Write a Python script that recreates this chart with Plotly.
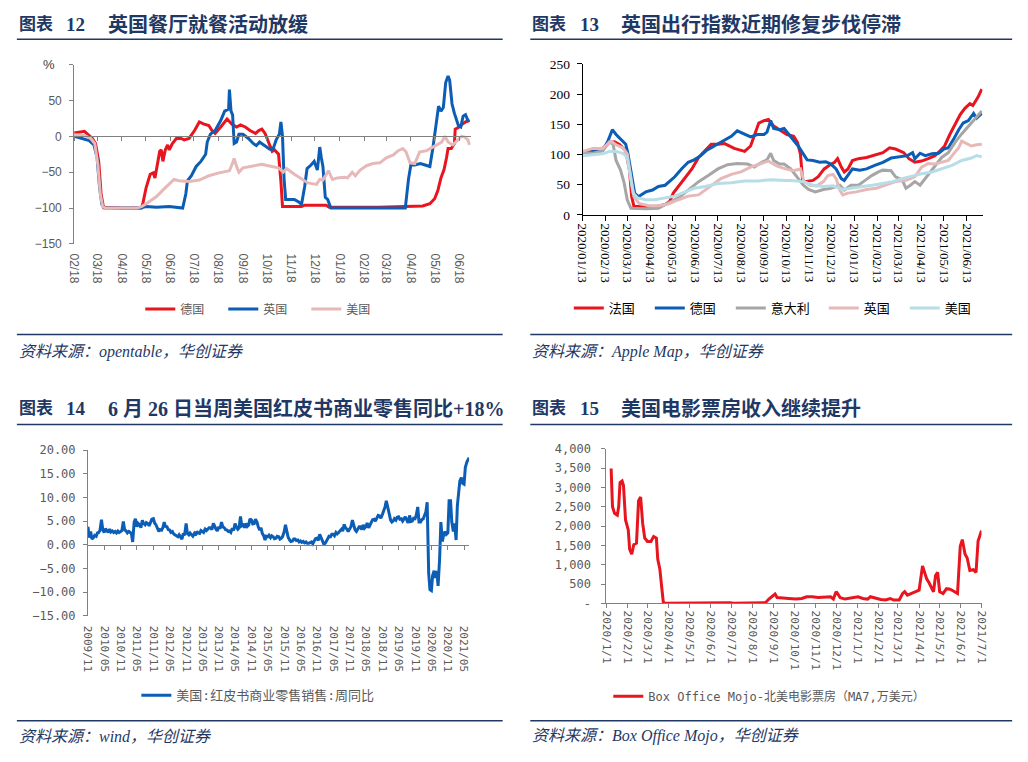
import pandas as pd
import plotly.graph_objects as go

W, H = 1028, 762
NAVY = "#1F3864"
RED = "#E8141E"
BLUE = "#0B5DB5"
PINK = "#E6B9B8"
GRAY = "#A6A6A6"
LBLUE = "#B7DEE8"
AXG = "#808080"
TXG = "#595959"

# ---------------- Panel 12: OpenTable dining (% YoY) ----------------
p1_de_dates = ["2020-02-18", "2020-02-20", "2020-03-02", "2020-03-08", "2020-03-12", "2020-03-16", "2020-03-20",
               "2020-03-23", "2020-03-26", "2020-04-20", "2020-05-13", "2020-05-15", "2020-05-19", "2020-05-24",
               "2020-05-28", "2020-05-30", "2020-06-02", "2020-06-05", "2020-06-07", "2020-06-09", "2020-06-12",
               "2020-06-15", "2020-06-17", "2020-06-21", "2020-06-26", "2020-07-02", "2020-07-06", "2020-07-12",
               "2020-07-19", "2020-07-25", "2020-07-31", "2020-08-06", "2020-08-10", "2020-08-14", "2020-08-21",
               "2020-08-29", "2020-09-04", "2020-09-10", "2020-09-15", "2020-09-21", "2020-09-27", "2020-10-04",
               "2020-10-08", "2020-10-12", "2020-10-16", "2020-10-20", "2020-10-25", "2020-10-28", "2020-11-02",
               "2020-11-05", "2020-11-07", "2020-11-14", "2020-12-01", "2020-12-05", "2021-01-01", "2021-01-05",
               "2021-03-08", "2021-05-03", "2021-05-12", "2021-05-18", "2021-05-22", "2021-05-26", "2021-05-30",
               "2021-06-02", "2021-06-04", "2021-06-08", "2021-06-12", "2021-06-13", "2021-06-18", "2021-06-22",
               "2021-06-26", "2021-07-01"]
p1_de_vals = [5, 5, 7, 1, -3, -10, -35, -80, -99, -100, -100, -92, -71, -53, -51, -58, -40, -21, -19, -35, -19,
              -12, -19, -10, -3, -3, -5, -3, 8, 20, 17, 15, 8, 4, 13, 24, 17, 13, 16, 13, 8, 4, 8, 10, 4, -8, -21,
              -19, -25, -63, -98, -98, -98, -96, -96, -99, -99, -97, -94, -87, -76, -58, -46, -30, -17, -17, -10,
              10, 13, 17, 20, 22]

p1_uk_dates = ["2020-02-18", "2020-02-27", "2020-03-08", "2020-03-14", "2020-03-18", "2020-03-21", "2020-03-24",
               "2020-03-27", "2020-05-11", "2020-05-19", "2020-06-01", "2020-06-17", "2020-07-04", "2020-07-08",
               "2020-07-10", "2020-07-15", "2020-07-21", "2020-07-27", "2020-08-02", "2020-08-04", "2020-08-08",
               "2020-08-14", "2020-08-21", "2020-08-26", "2020-08-31", "2020-09-01", "2020-09-03", "2020-09-05",
               "2020-09-07", "2020-09-10", "2020-09-13", "2020-09-18", "2020-09-25", "2020-10-01", "2020-10-05",
               "2020-10-09", "2020-10-16", "2020-10-22", "2020-10-26", "2020-10-30", "2020-11-03", "2020-11-05",
               "2020-11-07", "2020-11-09", "2020-11-11", "2020-11-22", "2020-11-28", "2020-12-01", "2020-12-05",
               "2020-12-08", "2020-12-13", "2020-12-17", "2020-12-21", "2020-12-24", "2020-12-26", "2020-12-28",
               "2020-12-31", "2021-01-03", "2021-01-07", "2021-04-11", "2021-04-15", "2021-04-18", "2021-04-23",
               "2021-04-30", "2021-05-06", "2021-05-12", "2021-05-16", "2021-05-20", "2021-05-23", "2021-05-26",
               "2021-05-29", "2021-06-01", "2021-06-04", "2021-06-06", "2021-06-09", "2021-06-12", "2021-06-17",
               "2021-06-20", "2021-06-23", "2021-06-26", "2021-06-29", "2021-07-01"]
p1_uk_vals = [0, -3, -6, -12, -30, -70, -95, -100, -100, -98, -99, -98, -100, -80, -62, -55, -42, -35, -25, -8, 3,
              8, 22, 35, 38, 65, 35, 30, -10, -8, 3, 3, -3, -10, -13, -8, -13, -18, -18, -5, 3, 20, 0, -60, -88,
              -88, -92, -95, -70, -45, -40, -35, -47, -15, -30, -42, -85, -88, -100, -100, -60, -40, -40, -38, -40,
              -42, -15, 20, 42, 35, 40, 75, 84, 78, 45, 32, 15, 13, 28, 30, 22, 23]

p1_us_dates = ["2020-02-18", "2020-03-02", "2020-03-10", "2020-03-15", "2020-03-19", "2020-03-22", "2020-03-25",
               "2020-03-28", "2020-05-07", "2020-05-13", "2020-05-19", "2020-05-26", "2020-06-01", "2020-06-09",
               "2020-06-17", "2020-06-23", "2020-06-29", "2020-07-12", "2020-07-25", "2020-08-06", "2020-08-19",
               "2020-09-01", "2020-09-04", "2020-09-07", "2020-09-10", "2020-09-13", "2020-09-18", "2020-09-28",
               "2020-10-12", "2020-10-20", "2020-10-25", "2020-11-02", "2020-11-08", "2020-11-12", "2020-11-22",
               "2020-12-01", "2020-12-09", "2020-12-20", "2020-12-24", "2020-12-28", "2021-01-04", "2021-01-09",
               "2021-01-15", "2021-01-24", "2021-01-28", "2021-02-03", "2021-02-07", "2021-02-13", "2021-02-21",
               "2021-03-01", "2021-03-10", "2021-03-18", "2021-03-27", "2021-04-02", "2021-04-08", "2021-04-12",
               "2021-04-17", "2021-04-23", "2021-04-29", "2021-05-08", "2021-05-16", "2021-05-23", "2021-05-27",
               "2021-05-31", "2021-06-04", "2021-06-10", "2021-06-17", "2021-06-21", "2021-06-25", "2021-06-29",
               "2021-07-01"]
p1_us_vals = [2, 1, -3, -10, -40, -80, -98, -100, -100, -98, -94, -88, -84, -75, -66, -60, -62, -63, -61, -55,
              -51, -48, -40, -31, -42, -50, -44, -42, -39, -41, -42, -44, -50, -45, -53, -60, -65, -67, -60, -61,
              -48, -60, -58, -57, -58, -50, -55, -47, -41, -38, -37, -30, -26, -20, -17, -22, -37, -38, -22, -20,
              -15, -10, -8, 0, -8, -12, -5, 0, -1, -5, -12]

p1_tick_dates = ["2020-02-18", "2020-03-18", "2020-04-18", "2020-05-18", "2020-06-18", "2020-07-18", "2020-08-18",
                 "2020-09-18", "2020-10-18", "2020-11-18", "2020-12-18", "2021-01-18", "2021-02-18", "2021-03-18",
                 "2021-04-18", "2021-05-18", "2021-06-18"]
p1_y_ticks = [-150, -100, -50, 0, 50, 100]
p1_y_labels = ["\u2212150", "\u2212100", "\u221250", "0", "50", ""]

# ---------------- Panel 13: Apple mobility ----------------
p2_fr_dates = ["2020-01-13", "2020-01-27", "2020-02-09", "2020-02-18", "2020-02-25", "2020-03-03", "2020-03-11",
               "2020-03-16", "2020-03-19", "2020-03-22", "2020-04-06", "2020-04-19", "2020-05-03", "2020-05-09",
               "2020-05-14", "2020-05-21", "2020-05-30", "2020-06-08", "2020-06-17", "2020-06-26", "2020-07-04",
               "2020-07-13", "2020-07-22", "2020-08-04", "2020-08-18", "2020-08-26", "2020-08-31", "2020-09-06",
               "2020-09-13", "2020-09-19", "2020-09-26", "2020-10-04", "2020-10-14", "2020-10-23", "2020-10-28",
               "2020-11-01", "2020-11-04", "2020-11-07", "2020-11-18", "2020-11-25", "2020-12-03", "2020-12-10",
               "2020-12-17", "2020-12-21", "2020-12-26", "2020-12-30", "2021-01-04", "2021-01-10", "2021-01-18",
               "2021-01-29", "2021-02-11", "2021-02-20", "2021-03-01", "2021-03-09", "2021-03-20", "2021-03-27",
               "2021-04-04", "2021-04-13", "2021-04-22", "2021-05-01", "2021-05-08", "2021-05-14", "2021-05-21",
               "2021-05-28", "2021-06-04", "2021-06-10", "2021-06-17", "2021-06-21", "2021-06-28", "2021-07-03"]
p2_fr_vals = [103, 109, 110, 120, 121, 116, 106, 74, 30, 14, 13, 13, 17, 22, 36, 47, 63, 76, 95, 106, 117, 117,
              118, 110, 105, 114, 130, 152, 156, 158, 147, 141, 133, 130, 120, 101, 57, 55, 57, 63, 76, 82, 87, 93,
              79, 71, 76, 90, 93, 95, 100, 103, 111, 109, 103, 93, 87, 89, 93, 98, 106, 114, 133, 149, 166, 176,
              184, 181, 195, 208]

p2_de_dates = ["2020-01-13", "2020-01-27", "2020-02-09", "2020-02-16", "2020-02-22", "2020-02-27", "2020-03-04",
               "2020-03-11", "2020-03-14", "2020-03-19", "2020-03-23", "2020-03-28", "2020-04-07", "2020-04-16",
               "2020-04-24", "2020-05-03", "2020-05-09", "2020-05-16", "2020-05-25", "2020-06-03", "2020-06-11",
               "2020-06-20", "2020-06-27", "2020-07-04", "2020-07-13", "2020-07-22", "2020-07-31", "2020-08-08",
               "2020-08-18", "2020-08-26", "2020-09-04", "2020-09-13", "2020-09-17", "2020-09-22", "2020-09-26",
               "2020-10-04", "2020-10-10", "2020-10-16", "2020-10-23", "2020-10-29", "2020-11-05", "2020-11-10",
               "2020-11-18", "2020-11-27", "2020-12-05", "2020-12-12", "2020-12-19", "2020-12-26", "2020-12-30",
               "2021-01-04", "2021-01-10", "2021-01-20", "2021-01-29", "2021-02-09", "2021-02-20", "2021-03-03",
               "2021-03-14", "2021-03-25", "2021-04-01", "2021-04-04", "2021-04-11", "2021-04-18", "2021-04-27",
               "2021-05-06", "2021-05-13", "2021-05-19", "2021-05-26", "2021-06-02", "2021-06-08", "2021-06-15",
               "2021-06-22", "2021-06-26", "2021-07-03"]
p2_de_vals = [103, 105, 107, 122, 141, 133, 125, 117, 101, 63, 36, 30, 38, 41, 47, 49, 55, 63, 76, 87, 91, 98,
              106, 111, 118, 125, 130, 139, 133, 129, 133, 133, 137, 156, 143, 141, 143, 133, 123, 114, 101, 91, 90,
              87, 88, 84, 76, 60, 57, 65, 76, 74, 76, 82, 87, 94, 96, 98, 103, 93, 102, 98, 101, 102, 109, 111, 125,
              141, 152, 156, 168, 160, 168]

p2_it_dates = ["2020-01-13", "2020-01-27", "2020-02-09", "2020-02-18", "2020-02-23", "2020-02-27", "2020-03-04",
               "2020-03-09", "2020-03-13", "2020-03-18", "2020-04-07", "2020-04-24", "2020-05-03", "2020-05-12",
               "2020-05-21", "2020-06-03", "2020-06-17", "2020-06-30", "2020-07-13", "2020-07-26", "2020-08-08",
               "2020-08-22", "2020-08-31", "2020-09-10", "2020-09-17", "2020-09-22", "2020-09-26", "2020-10-04",
               "2020-10-10", "2020-10-19", "2020-10-27", "2020-11-05", "2020-11-12", "2020-11-21", "2020-12-02",
               "2020-12-12", "2020-12-24", "2020-12-30", "2021-01-08", "2021-01-18", "2021-01-27", "2021-02-05",
               "2021-02-14", "2021-02-20", "2021-03-03", "2021-03-09", "2021-03-18", "2021-03-23", "2021-03-29",
               "2021-04-04", "2021-04-11", "2021-04-18", "2021-04-25", "2021-05-01", "2021-05-10", "2021-05-19",
               "2021-05-28", "2021-06-06", "2021-06-15", "2021-06-24", "2021-07-03"]
p2_it_vals = [103, 102, 106, 121, 117, 90, 74, 52, 25, 11, 10, 11, 17, 22, 28, 41, 55, 65, 76, 83, 85, 84, 79, 87,
              91, 102, 90, 84, 84, 76, 63, 49, 42, 38, 42, 44, 49, 41, 49, 49, 57, 65, 71, 74, 73, 63, 58, 44, 49,
              55, 49, 60, 71, 82, 95, 103, 120, 134, 147, 160, 172]

p2_uk_dates = ["2020-01-13", "2020-01-27", "2020-02-09", "2020-02-20", "2020-02-27", "2020-03-07", "2020-03-13",
               "2020-03-18", "2020-03-22", "2020-03-29", "2020-04-11", "2020-04-24", "2020-05-07", "2020-05-21",
               "2020-06-03", "2020-06-17", "2020-06-26", "2020-07-04", "2020-07-17", "2020-07-31", "2020-08-13",
               "2020-08-26", "2020-09-08", "2020-09-19", "2020-09-30", "2020-10-12", "2020-10-23", "2020-11-01",
               "2020-11-06", "2020-11-14", "2020-11-23", "2020-12-02", "2020-12-08", "2020-12-15", "2020-12-19",
               "2020-12-24", "2020-12-28", "2021-01-04", "2021-01-15", "2021-01-29", "2021-02-11", "2021-02-24",
               "2021-03-09", "2021-03-23", "2021-04-04", "2021-04-13", "2021-04-22", "2021-05-01", "2021-05-10",
               "2021-05-19", "2021-05-26", "2021-06-02", "2021-06-06", "2021-06-12", "2021-06-19", "2021-06-26",
               "2021-07-03"]
p2_uk_vals = [105, 110, 110, 122, 116, 111, 101, 63, 30, 19, 15, 15, 18, 25, 31, 33, 41, 47, 60, 67, 71, 79, 84,
              89, 81, 76, 73, 76, 55, 49, 48, 55, 65, 67, 60, 41, 33, 36, 38, 42, 44, 49, 55, 57, 63, 79, 85, 84,
              87, 90, 101, 111, 122, 118, 114, 116, 117]

p2_us_dates = ["2020-01-13", "2020-01-27", "2020-02-09", "2020-02-18", "2020-02-27", "2020-03-07", "2020-03-13",
               "2020-03-18", "2020-03-21", "2020-03-27", "2020-04-07", "2020-04-19", "2020-05-03", "2020-05-16",
               "2020-05-30", "2020-06-11", "2020-06-26", "2020-07-13", "2020-07-31", "2020-08-18", "2020-09-04",
               "2020-09-22", "2020-10-13", "2020-10-19", "2020-11-05", "2020-11-18", "2020-12-02", "2020-12-15",
               "2020-12-28", "2021-01-11", "2021-01-24", "2021-02-06", "2021-02-20", "2021-03-05", "2021-03-18",
               "2021-04-01", "2021-04-13", "2021-04-27", "2021-05-10", "2021-05-24", "2021-06-06", "2021-06-19",
               "2021-06-26", "2021-07-03"]
p2_us_vals = [98, 100, 101, 105, 105, 102, 95, 57, 36, 28, 25, 25, 28, 31, 38, 44, 47, 52, 53, 56, 56, 58, 57, 57,
              55, 49, 47, 48, 42, 44, 47, 49, 52, 55, 60, 65, 68, 71, 76, 82, 90, 94, 98, 96]

p2_tick_dates = ["2020-01-13", "2020-02-13", "2020-03-13", "2020-04-13", "2020-05-13", "2020-06-13", "2020-07-13",
                 "2020-08-13", "2020-09-13", "2020-10-13", "2020-11-13", "2020-12-13", "2021-01-13", "2021-02-13",
                 "2021-03-13", "2021-04-13", "2021-05-13", "2021-06-13"]
p2_y_ticks = [0, 50, 100, 150, 200, 250]

# ---------------- Panel 14: Redbook weekly YoY (semi-monthly readings) ----------------
p3_vals = [
    3.8, 1.5, 2.8, 1.2,  # 2009 Nov-Dec
    1.5, 2.0, 1.8, 2.5, 2.6, 3.0, 5.3, 3.2, 2.6, 3.4, 3.0, 2.6, 3.3, 2.7, 2.9, 2.6, 2.8, 2.5, 2.9, 2.6, 2.8, 3.0, 4.9, 3.2,
    2.9, 2.5, 2.8, 2.6, 2.4, 0.6, 4.8, 5.5, 3.8, 4.5, 4.2, 3.6, 5.2, 4.5, 4.2, 4.7, 4.5, 4.0, 4.8, 5.4, 5.5, 4.6, 4.2, 3.4,
    2.8, 3.2, 3.1, 3.6, 4.8, 3.9, 3.8, 3.2, 3.1, 2.6, 2.8, 2.3, 2.1, 1.8, 1.7, 2.1, 1.7, 1.2, 2.4, 2.0, 4.5, 2.4, 2.1, 2.5,
    2.1, 1.8, 2.4, 2.0, 2.8, 2.5, 2.4, 3.0, 2.8, 2.6, 3.3, 3.0, 3.3, 3.6, 3.6, 3.2, 4.5, 3.8, 3.3, 2.9, 3.8, 3.4, 4.8, 3.8,
    3.6, 3.2, 3.1, 2.8, 2.9, 2.6, 3.5, 3.0, 4.5, 3.8, 3.3, 3.6, 6.0, 4.0, 4.2, 3.6, 4.5, 3.9, 4.2, 5.5, 5.2, 4.4, 4.5, 5.4,
    4.8, 3.8, 3.1, 3.6, 2.4, 2.0, 1.0, 1.8, 1.7, 2.0, 1.5, 1.9, 1.7, 1.3, 1.4, 1.8, 1.7, 1.2, 1.4, 1.8, 2.8, 4.2, 2.4, 1.6,
    1.0, 0.7, 0.8, 1.2, 1.2, 0.9, 1.0, 0.6, 0.8, 0.5, 0.7, 0.4, 0.6, 0.3, 0.3, 0.5, 0.6, 0.2, 0.8, 1.3, 1.4, 0.9, 2.2, 1.5,
    0.7, 0.2, 0.3, 0.9, 1.2, 1.8, 1.7, 2.2, 2.2, 1.9, 2.6, 2.3, 2.6, 3.0, 3.3, 2.9, 4.3, 3.6, 3.3, 2.8, 3.3, 3.8, 5.2, 4.0,
    3.1, 2.8, 3.3, 3.8, 3.8, 3.2, 4.2, 3.5, 3.8, 4.6, 3.6, 4.2, 4.8, 5.3, 5.4, 5.0, 5.7, 6.2, 6.1, 5.6, 6.4, 7.0, 8.0, 9.3,
    7.6, 6.2, 5.2, 4.8, 5.0, 5.5, 5.2, 5.8, 5.9, 5.4, 5.5, 5.0, 5.4, 5.9, 5.2, 4.6, 6.2, 4.9, 5.0, 5.6, 5.5, 6.3, 8.0, 4.8,
    4.8, 5.3, 5.5, 6.2, 7.0, 9.0, -6.0, -9.5, -9.7, -6.5, -5.5, -7.0, -5.5, -8.7, -3.0, 4.8, 0.7, 2.1, 2.8, 2.2, 2.5, 9.3, 9.3, 4.8,
    2.8, 4.5, 1.0, 8.3, 10.4, 13.5, 14.2, 13.0, 12.8, 16.3, 17.5, 18.0,  # 2021 Jan-Jun
]
p3_last_date = "2021-06-26"
p3_last_val = 18.4
p3_dates = [d.strftime("%Y-%m-%d") for d in pd.date_range("2009-11-01", "2021-06-15", freq="SMS")] + [p3_last_date]
p3_vals = p3_vals + [p3_last_val]
p3_tick_labels = ["2009/11", "2010/05", "2010/11", "2011/05", "2011/11", "2012/05", "2012/11", "2013/05",
                  "2013/11", "2014/05", "2014/11", "2015/05", "2015/11", "2016/05", "2016/11", "2017/05",
                  "2017/11", "2018/05", "2018/11", "2019/05", "2019/11", "2020/05", "2020/11", "2021/05"]
p3_y_ticks = [-15, -10, -5, 0, 5, 10, 15, 20]

# ---------------- Panel 15: Box office MA7 (10k USD) ----------------
p4_dates = ["2020-01-08", "2020-01-10", "2020-01-13", "2020-01-17", "2020-01-19", "2020-01-21", "2020-01-24",
            "2020-01-26", "2020-01-29", "2020-01-31", "2020-02-02", "2020-02-04", "2020-02-07", "2020-02-10",
            "2020-02-14", "2020-02-17", "2020-02-20", "2020-02-23", "2020-02-26", "2020-03-01", "2020-03-06",
            "2020-03-10", "2020-03-14", "2020-03-16", "2020-03-19", "2020-03-21", "2020-03-24", "2020-03-26",
            "2020-06-12", "2020-06-20", "2020-06-29", "2020-07-04", "2020-07-25", "2020-08-20", "2020-08-25",
            "2020-08-30", "2020-09-03", "2020-09-06", "2020-09-13", "2020-09-23", "2020-10-03", "2020-10-12",
            "2020-10-19", "2020-10-27", "2020-11-05", "2020-11-15", "2020-11-23", "2020-11-27", "2020-12-01",
            "2020-12-03", "2020-12-07", "2020-12-14", "2020-12-24", "2021-01-02", "2021-01-09", "2021-01-16",
            "2021-01-20", "2021-01-28", "2021-02-04", "2021-02-11", "2021-02-18", "2021-02-23", "2021-03-03",
            "2021-03-08", "2021-03-11", "2021-03-15", "2021-03-20", "2021-03-27", "2021-04-01", "2021-04-03",
            "2021-04-06", "2021-04-09", "2021-04-12", "2021-04-15", "2021-04-19", "2021-04-22", "2021-04-25",
            "2021-04-28", "2021-05-01", "2021-05-06", "2021-05-11", "2021-05-16", "2021-05-21", "2021-05-27",
            "2021-05-31", "2021-06-03", "2021-06-07", "2021-06-10", "2021-06-14", "2021-06-19", "2021-06-23",
            "2021-06-26", "2021-07-01"]
p4_vals = [3490, 2500, 2330, 2280, 2500, 3130, 3170, 3050, 2160, 2030, 1900, 1400, 1270, 1520, 1560, 2660, 2750,
           2070, 1690, 1600, 1600, 1730, 1690, 1140, 890, 550, 40, 0, 5, 20, 17, 0, 15, 17, 110, 170, 240, 150, 145,
           125, 110, 125, 170, 170, 150, 170, 170, 110, 300, 255, 145, 110, 145, 170, 125, 110, 170, 125, 100, 85,
           125, 85, 85, 255, 300, 210, 255, 300, 340, 550, 970, 800, 635, 550, 420, 300, 720, 800, 300, 255, 380,
           365, 320, 255, 1480, 1650, 1270, 1180, 850, 870, 800, 1610, 1880]
p4_tick_dates = ["2020-01-01", "2020-02-01", "2020-03-01", "2020-04-01", "2020-05-01", "2020-06-01", "2020-07-01",
                 "2020-08-01", "2020-09-01", "2020-10-01", "2020-11-01", "2020-12-01", "2021-01-01", "2021-02-01",
                 "2021-03-01", "2021-04-01", "2021-05-01", "2021-06-01", "2021-07-01"]
p4_y_ticks = [0, 500, 1000, 1500, 2000, 2500, 3000, 3500, 4000]


def fx(p):
    return p / W


def fy(p):
    return 1 - p / H


fig = go.Figure()

for name, xs, ys, col in [("德国", p1_de_dates, p1_de_vals, RED),
                          ("英国", p1_uk_dates, p1_uk_vals, BLUE),
                          ("美国", p1_us_dates, p1_us_vals, PINK)]:
    fig.add_trace(go.Scatter(x=xs, y=ys, name=name, mode="lines", line=dict(color=col, width=3),
                             xaxis="x", yaxis="y", legend="legend", hoverinfo="skip"))

for name, xs, ys, col, lw in [("法国", p2_fr_dates, p2_fr_vals, RED, 36),
                              ("德国", p2_de_dates, p2_de_vals, BLUE, 36),
                              ("意大利", p2_it_dates, p2_it_vals, GRAY, 48),
                              ("英国", p2_uk_dates, p2_uk_vals, PINK, 36),
                              ("美国", p2_us_dates, p2_us_vals, LBLUE, 36)]:
    fig.add_trace(go.Scatter(x=xs, y=ys, name=name, mode="lines", line=dict(color=col, width=3),
                             xaxis="x2", yaxis="y2", legend="legend2", legendwidth=lw, hoverinfo="skip"))

fig.add_trace(go.Scatter(x=p3_dates, y=p3_vals, name="美国:红皮书商业零售销售:周同比", mode="lines",
                         line=dict(color=BLUE, width=3), xaxis="x3", yaxis="y3", legend="legend3",
                         hoverinfo="skip"))

fig.add_trace(go.Scatter(x=p4_dates, y=p4_vals, name="Box Office Mojo-北美电影票房（MA7,万美元）", mode="lines",
                         line=dict(color=RED, width=3), xaxis="x4", yaxis="y4", legend="legend4",
                         hoverinfo="skip"))

MONO = "DejaVu Sans Mono, Noto Sans CJK SC"
CJK = "Noto Sans CJK SC"

p1_ticktext = [d[5:7] + "/" + d[8:10] for d in p1_tick_dates]
p2_ticktext = [d.replace("-", "/") for d in p2_tick_dates]
p3_tickvals = [lab.replace("/", "-") + "-01" for lab in p3_tick_labels]
p4_ticktext = [f"{int(d[:4])}/{int(d[5:7])}/{int(d[8:10])}" for d in p4_tick_dates]
p3_ticktext_y = [f"{v:.2f}".replace("-", "\u2212") for v in p3_y_ticks]
p4_ticktext_y = ["-" if v == 0 else f"{v:,}" for v in p4_y_ticks]

fig.update_layout(
    width=W, height=H, margin=dict(l=0, r=0, t=0, b=0),
    paper_bgcolor="white", plot_bgcolor="white", showlegend=True,
    xaxis=dict(domain=[fx(68), fx(470)], anchor="free", position=fy(131.7), type="date",
               range=["2020-02-18", "2021-07-03"], tickvals=p1_tick_dates, ticktext=p1_ticktext,
               tickangle=90, ticks="outside", ticklen=4, tickcolor=AXG, showline=True, linecolor=AXG,
               linewidth=1, showgrid=False, zeroline=False, ticklabelstandoff=110,
               tickfont=dict(family="Liberation Sans", size=12, color=TXG)),
    yaxis=dict(domain=[fy(241.7), fy(58.7)], anchor="x", range=[-150, 100], tickvals=p1_y_ticks,
               ticktext=p1_y_labels, ticks="outside", ticklen=4, tickcolor=AXG, showline=True,
               linecolor=AXG, linewidth=1, showgrid=False, zeroline=False, ticklabelstandoff=5,
               tickfont=dict(family="Liberation Sans", size=12, color=TXG)),
    xaxis2=dict(domain=[fx(583), fx(988)], anchor="y2", type="date", range=["2020-01-13", "2021-07-04"],
                tickvals=p2_tick_dates, ticktext=p2_ticktext, tickangle=90, ticks="outside", ticklen=5,
                tickcolor="black", showline=True, linecolor="black", linewidth=1, showgrid=False,
                zeroline=False, tickfont=dict(family="Liberation Serif", size=13, color="black")),
    yaxis2=dict(domain=[fy(212), fy(58)], anchor="x2", range=[0, 250], tickvals=p2_y_ticks, ticks="outside",
                ticklen=5, tickcolor="black", showline=True, linecolor="black", linewidth=1, showgrid=False,
                zeroline=False, ticklabelstandoff=4,
                tickfont=dict(family="Liberation Serif", size=13.5, color="black")),
    xaxis3=dict(domain=[fx(82), fx(468)], anchor="free", position=fy(548.3), type="date",
                range=["2009-11-01", "2021-06-26"], tickvals=p3_tickvals, ticktext=p3_tick_labels,
                tickangle=90, ticks="outside", ticklen=4, tickcolor=AXG, showline=True, linecolor=AXG,
                linewidth=1, showgrid=False, zeroline=False, ticklabelstandoff=74,
                tickfont=dict(family=MONO, size=11, color=TXG)),
    yaxis3=dict(domain=[fy(621), fy(452)], anchor="x3", range=[-15, 20], tickvals=p3_y_ticks,
                ticktext=p3_ticktext_y, ticks="outside", ticklen=4, tickcolor=AXG, showline=True,
                linecolor=AXG, linewidth=1, showgrid=False, zeroline=False, ticklabelstandoff=5,
                tickfont=dict(family=MONO, size=12, color=TXG)),
    xaxis4=dict(domain=[fx(607), fx(987)], anchor="y4", type="date", range=["2020-01-01", "2021-07-01"],
                tickvals=p4_tick_dates, ticktext=p4_ticktext, tickangle=90, ticks="outside", ticklen=4,
                tickcolor=AXG, showline=True, linecolor=AXG, linewidth=1, showgrid=False, zeroline=False,
                tickfont=dict(family=MONO, size=11, color=TXG)),
    yaxis4=dict(domain=[fy(608.3), fy(450.7)], anchor="x4", range=[0, 4000], tickvals=p4_y_ticks,
                ticktext=p4_ticktext_y, ticks="outside", ticklen=4, tickcolor=AXG, showline=True,
                linecolor=AXG, linewidth=1, showgrid=False, zeroline=False, ticklabelstandoff=8,
                tickfont=dict(family=MONO, size=12, color=TXG)),
    legend=dict(x=fx(135), y=fy(308), xanchor="left", yanchor="middle", orientation="h", entrywidth=38,
                bgcolor="rgba(0,0,0,0)", font=dict(family=CJK, size=12, color=TXG)),
    legend2=dict(x=fx(569), y=fy(307), xanchor="left", yanchor="middle", orientation="h",
                 bgcolor="rgba(0,0,0,0)", font=dict(family=CJK, size=13, color="black")),
    legend3=dict(x=fx(131), y=fy(702), xanchor="left", yanchor="middle", orientation="h",
                 bgcolor="rgba(0,0,0,0)", font=dict(family=MONO, size=13, color=TXG)),
    legend4=dict(x=fx(609), y=fy(703), xanchor="left", yanchor="middle", orientation="h",
                 bgcolor="rgba(0,0,0,0)", font=dict(family=MONO, size=12, color=TXG)),
)

TFONT = "Liberation Serif, Noto Sans CJK SC"
annotations = []


def text(x, y, s, size, color=NAVY, family=TFONT, xanchor="left"):
    annotations.append(dict(x=fx(x), y=fy(y), xref="paper", yref="paper", text=s, showarrow=False,
                            xanchor=xanchor, yanchor="middle", font=dict(family=family, size=size, color=color)))


titles = [
    (10, 18, "12", "英国餐厅就餐活动放缓"),
    (530, 18, "13", "英国出行指数近期修复步伐停滞"),
    (10, 410, "14", "6 月 26 日当周美国红皮书商业零售同比+18%"),
    (530, 410, "15", "美国电影票房收入继续提升"),
]
for x0, y0, num, ttl in titles:
    text(x0, y0, "<b>图表</b>", 17)
    text(x0 + 48, y0, "<b>" + num + "</b>", 19)
    text(x0 + 90, y0, "<b>" + ttl + "</b>", 20)

sources = [
    (10, 352, "资料来源：opentable，华创证券"),
    (530, 352, "资料来源：Apple Map，华创证券"),
    (10, 744, "资料来源：wind，华创证券"),
    (530, 744, "资料来源：Box Office Mojo，华创证券"),
]
for x0, y0, s in sources:
    text(x0, y0, "<i>" + s + "</i>", 16)

text(43, 59, "%", 13, color="#404040", family="Liberation Sans", xanchor="center")

shapes = []
for (x0, x1) in [(10, 502), (530, 1018)]:
    for yl in [33, 334, 426, 728]:
        shapes.append(dict(type="line", xref="paper", yref="paper", x0=fx(x0), x1=fx(x1), y0=fy(yl), y1=fy(yl),
                           line=dict(color=NAVY, width=1.5)))

fig.update_layout(annotations=annotations, shapes=shapes)

fig.write_html("out.html", config={"displayModeBar": False},
               post_script="document.body.style.margin='0';document.documentElement.style.overflow='hidden';")
